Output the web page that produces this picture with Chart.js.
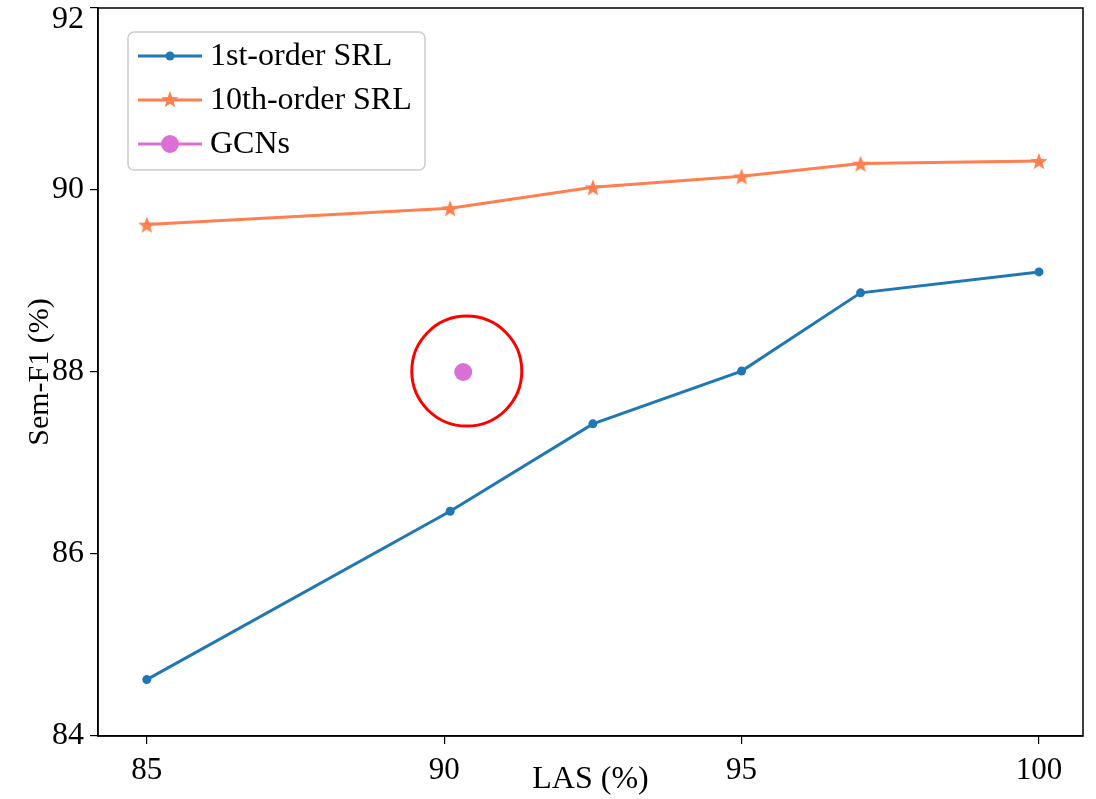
<!DOCTYPE html>
<html>
<head>
<meta charset="utf-8">
<script src="https://cdn.jsdelivr.net/npm/chart.js@4.4.1/dist/chart.umd.min.js"></script>
<style>
  html, body { margin: 0; padding: 0; background: #fff; }
  #wrap { width: 1096px; height: 799px; }
</style>
</head>
<body>
<div id="wrap"><canvas id="chart" width="1096" height="799"></canvas></div>
<script>
// values
const lasValues = [85, 90.1, 92.5, 95, 97, 100];
const firstOrderSRL = [84.62, 86.47, 87.43, 88.01, 88.87, 89.10];
const tenthOrderSRL = [89.62, 89.80, 90.03, 90.15, 90.29, 90.32];
const gcnLas = [90.32];
const gcnF1 = [88.0];
const highlightLas = [90.38];
const highlightF1 = [88.01];
const xTickValues = [85, 90, 95, 100];
const yTickValues = [84, 86, 88, 90, 92];

const serif = "'Liberation Serif', 'DejaVu Serif', serif";
const blue = '#1f77b4';
const coral = '#ff7f50';
const orchid = '#da70d6';
const yTop = yTickValues[yTickValues.length - 1];

// filled five-point star marker
function makeStar(size, color) {
  const c = document.createElement('canvas');
  c.width = size; c.height = size;
  const g = c.getContext('2d');
  const cx = size / 2, cy = size / 2 + 1, ro = size / 2, ri = ro * 0.42;
  g.beginPath();
  for (let i = 0; i < 10; i++) {
    const r = i % 2 === 0 ? ro : ri;
    const a = -Math.PI / 2 + i * Math.PI / 5;
    const px = cx + r * Math.cos(a), py = cy + r * Math.sin(a);
    if (i === 0) g.moveTo(px, py); else g.lineTo(px, py);
  }
  g.closePath();
  g.fillStyle = color;
  g.fill();
  return c;
}
const starImg = makeStar(18, coral);

const toPoints = (xs, ys) => xs.map((x, i) => ({ x: x, y: ys[i] }));

// frame around the plot area
const frame = {
  id: 'frame',
  afterDatasetsDraw(chart) {
    const { ctx, chartArea: a } = chart;
    ctx.save();
    ctx.strokeStyle = '#000';
    ctx.lineWidth = 1.5;
    ctx.strokeRect(a.left, a.top, a.right - a.left, a.bottom - a.top);
    ctx.restore();
  }
};

// matplotlib-style legend inside the plot, upper left
const boxLegend = {
  id: 'boxLegend',
  afterDraw(chart) {
    const { ctx, chartArea: a } = chart;
    const x0 = a.left + 30, y0 = a.top + 24, w = 297, h = 138;
    ctx.save();
    ctx.beginPath();
    ctx.roundRect(x0, y0, w, h, 6);
    ctx.fillStyle = 'rgba(255,255,255,0.85)';
    ctx.fill();
    ctx.strokeStyle = '#cccccc';
    ctx.lineWidth = 1.5;
    ctx.stroke();
    const rows = chart.data.datasets.filter(d => d.inLegend);
    rows.forEach((d, i) => {
      const y = y0 + 24 + i * 44;
      ctx.strokeStyle = d.borderColor;
      ctx.lineWidth = 3;
      ctx.beginPath();
      ctx.moveTo(x0 + 10, y);
      ctx.lineTo(x0 + 74, y);
      ctx.stroke();
      if (d.pointStyle === starImg) {
        ctx.drawImage(starImg, x0 + 42 - 9, y - 10);
      } else {
        ctx.fillStyle = d.pointBackgroundColor;
        ctx.beginPath();
        ctx.arc(x0 + 42, y, d.pointRadius, 0, Math.PI * 2);
        ctx.fill();
      }
      ctx.fillStyle = '#000';
      ctx.font = '32px ' + serif;
      ctx.textBaseline = 'middle';
      ctx.fillText(d.label, x0 + 82, y + 1);
    });
    ctx.restore();
  }
};

new Chart(document.getElementById('chart').getContext('2d'), {
  type: 'line',
  data: {
    datasets: [
      {
        label: '1st-order SRL',
        inLegend: true,
        data: toPoints(lasValues, firstOrderSRL),
        borderColor: blue,
        backgroundColor: blue,
        pointBackgroundColor: blue,
        pointBorderWidth: 0,
        pointRadius: 4.5,
        borderWidth: 3,
        tension: 0
      },
      {
        label: '10th-order SRL',
        inLegend: true,
        data: toPoints(lasValues, tenthOrderSRL),
        borderColor: coral,
        backgroundColor: coral,
        pointStyle: starImg,
        borderWidth: 3,
        tension: 0
      },
      {
        label: 'GCNs',
        inLegend: true,
        data: toPoints(gcnLas, gcnF1),
        showLine: false,
        borderColor: orchid,
        backgroundColor: orchid,
        pointBackgroundColor: orchid,
        pointBorderWidth: 0,
        pointRadius: 9
      },
      {
        label: 'highlight',
        data: toPoints(highlightLas, highlightF1),
        showLine: false,
        borderColor: '#ff0000',
        backgroundColor: 'rgba(0,0,0,0)',
        pointBackgroundColor: 'rgba(0,0,0,0)',
        pointBorderColor: '#ff0000',
        pointBorderWidth: 3,
        pointRadius: 55
      }
    ]
  },
  options: {
    responsive: false,
    animation: false,
    layout: { autoPadding: false, padding: { top: 8, right: 13, left: 0, bottom: 0 } },
    plugins: {
      legend: { display: false },
      tooltip: { enabled: false }
    },
    scales: {
      x: {
        type: 'linear',
        min: 84.18,
        max: 100.74,
        afterBuildTicks: s => { s.ticks = xTickValues.map(v => ({ value: v })); },
        afterFit: s => { s.height = 63; },
        grid: { drawOnChartArea: false, drawTicks: true, tickLength: 8, color: '#000', lineWidth: 1.2 },
        border: { display: true, color: '#000', width: 1.5 },
        ticks: { color: '#000', font: { family: serif, size: 31 }, padding: 8, maxRotation: 0 },
        title: { display: true, text: 'LAS (%)', color: '#000', font: { family: serif, size: 32 }, padding: { top: -15, bottom: 0 } }
      },
      y: {
        min: 84,
        max: 92,
        afterBuildTicks: s => { s.ticks = yTickValues.map(v => ({ value: v })); },
        afterFit: s => { s.width = 98; s.paddingTop = 0; s.paddingBottom = 0; },
        grid: { drawOnChartArea: false, drawTicks: true, tickLength: 8, color: '#000', lineWidth: 1.2 },
        border: { display: true, color: '#000', width: 1.5 },
        ticks: {
          color: '#000',
          padding: 6,
          // top label sits a bit lower so it stays inside the picture
          callback: v => (v === yTop ? ['', String(v)] : String(v)),
          font: c => ({ family: serif, size: 32, lineHeight: c.tick && c.tick.value === yTop ? 0.72 : 1.2 })
        },
        title: { display: true, text: 'Sem-F1 (%)', color: '#000', font: { family: serif, size: 30 }, padding: { top: 22, bottom: 2 } }
      }
    }
  },
  plugins: [frame, boxLegend]
});
</script>
</body>
</html>
